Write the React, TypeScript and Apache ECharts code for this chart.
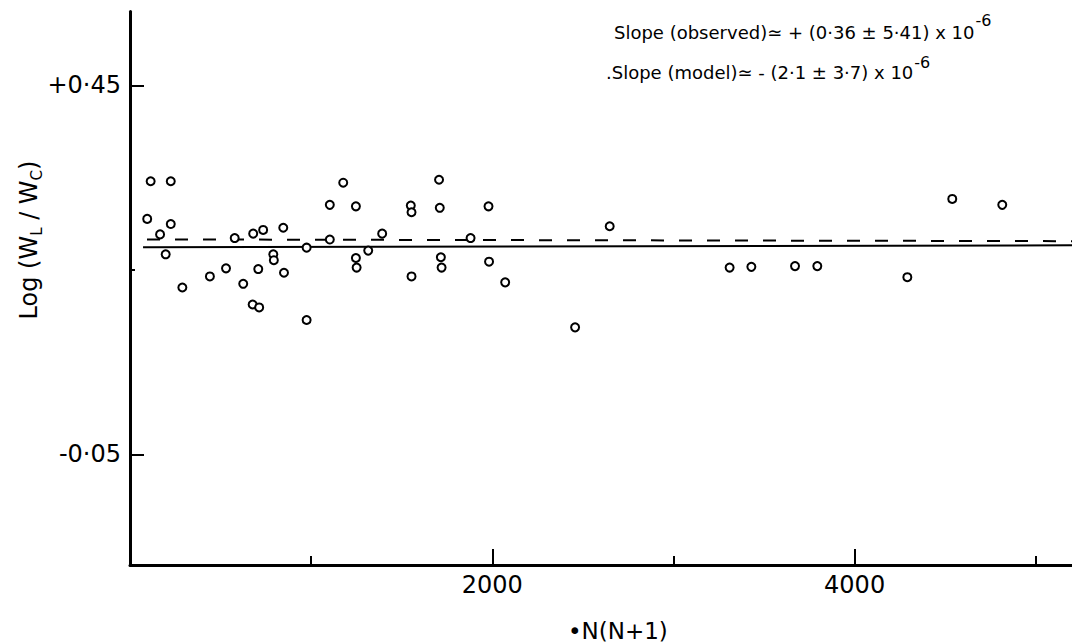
import React, { useEffect, useRef } from 'react';
import * as echarts from 'echarts';

// N(N+1) values of the observed points
const xValues = [114, 225, 95, 225, 166, 197, 289, 441, 530, 578, 625, 680, 735, 708, 677, 713, 791, 794, 846, 850, 975, 975, 1103, 1103, 1177, 1247, 1247, 1251, 1315, 1392, 1550, 1554, 1554, 1706, 1710, 1716, 1720, 1880, 1979, 1982, 2071, 2457, 2648, 3310, 3430, 3671, 3794, 4291, 4539, 4815];
// Log(W_L / W_C) values
const yValues = [0.320, 0.320, 0.269, 0.262, 0.248, 0.221, 0.176, 0.191, 0.202, 0.243, 0.181, 0.249, 0.254, 0.201, 0.153, 0.149, 0.221, 0.213, 0.257, 0.196, 0.230, 0.132, 0.288, 0.241, 0.318, 0.286, 0.216, 0.203, 0.226, 0.249, 0.287, 0.278, 0.191, 0.322, 0.284, 0.217, 0.203, 0.243, 0.286, 0.211, 0.183, 0.122, 0.259, 0.203, 0.204, 0.205, 0.205, 0.190, 0.296, 0.288];

// fitted lines
const obsFitX = [72, 5200];
const obsFitY = [0.2305, 0.2332];
const modelFitX = [94, 5200];
const modelFitY = [0.2412, 0.2388];

// ticks
const yLabelTicks = [0.45, -0.05];
const yMinorTicks = [0.2];
const xShortTicks = [1000, 3000, 5000];
const xLongTicks = [2000, 4000];
const xTickLabels = [2000, 4000];

const FONT = 'DejaVu Sans';

function measure(text: string, size: number): number {
  const c = document.createElement('canvas').getContext('2d');
  if (!c) return text.length * size * 0.6;
  c.font = `${size}px "${FONT}"`;
  return c.measureText(text).width;
}

type Part = { text: string; size: number; dy: number; dx?: number };

function textRuns(parts: Part[], center: boolean) {
  let x = 0;
  const items: any[] = [];
  for (const p of parts) {
    x += p.dx || 0;
    items.push({ text: p.text, size: p.size, x, y: p.dy });
    x += measure(p.text, p.size);
  }
  const off = center ? -x / 2 : 0;
  return items.map((it) => ({
    type: 'text',
    x: it.x + off,
    y: it.y,
    style: {
      text: it.text,
      fontSize: it.size,
      fontFamily: FONT,
      fill: '#000',
      align: 'left',
      textAlign: 'left',
      verticalAlign: 'middle',
      textVerticalAlign: 'middle',
    },
  }));
}

export default function App() {
  const ref = useRef<HTMLDivElement>(null);
  useEffect(() => {
    document.body.style.margin = '0';
    if (!ref.current) return;
    const chart = echarts.init(ref.current, undefined, { renderer: 'svg' });

    const yTitle = textRuns(
      [
        { text: 'Log (W', size: 24, dy: 0 },
        { text: 'L', size: 15, dy: 8 },
        { text: ' / W', size: 24, dy: 0 },
        { text: 'C', size: 15, dy: 8 },
        { text: ')', size: 24, dy: 0 },
      ],
      true
    );
    const ann1 = textRuns(
      [
        { text: 'Slope (observed)\u2243 + (0\u00b736 \u00b1 5\u00b741) x 10', size: 18, dy: 0 },
        { text: '-6', size: 16, dy: -12, dx: 1 },
      ],
      false
    );
    const ann2 = textRuns(
      [
        { text: '.Slope (model)\u2243 - (2\u00b71 \u00b1 3\u00b77) x 10', size: 18, dy: 0 },
        { text: '-6', size: 16, dy: -10, dx: 1 },
      ],
      false
    );

    const fmt = (v: number) =>
      (v >= 0 ? '+' : '-') + Math.abs(v).toFixed(2).replace('.', '\u00b7');

    const axisColor = '#000';
    chart.setOption({
      animation: false,
      backgroundColor: '#fff',
      grid: { left: 130, right: 0, top: 11.5, bottom: 79, containLabel: false, outerBoundsMode: 'none' },
      xAxis: [
        {
          type: 'value',
          min: 0,
          max: 5200,
          position: 'bottom',
          axisLine: { show: true, onZero: false, lineStyle: { color: axisColor, width: 3 } },
          splitLine: { show: false },
          axisTick: { show: true, inside: true, length: 9, lineStyle: { color: axisColor, width: 2 }, customValues: xShortTicks },
          axisLabel: { show: true, customValues: xTickLabels, formatter: (v: number) => String(v), color: '#000', fontSize: 24, fontFamily: FONT, margin: 8 },
        },
        {
          type: 'value',
          min: 0,
          max: 5200,
          position: 'bottom',
          axisLine: { show: false, onZero: false },
          splitLine: { show: false },
          axisTick: { show: true, inside: true, length: 16, lineStyle: { color: axisColor, width: 2 }, customValues: xLongTicks },
          axisLabel: { show: false },
        },
      ],
      yAxis: [
        {
          type: 'value',
          min: -0.2,
          max: 0.55,
          position: 'left',
          axisLine: { show: true, onZero: false, lineStyle: { color: axisColor, width: 3 } },
          splitLine: { show: false },
          axisTick: { show: true, inside: true, length: 14, lineStyle: { color: axisColor, width: 2 }, customValues: yLabelTicks },
          axisLabel: { show: true, customValues: yLabelTicks, formatter: fmt, color: '#000', fontSize: 24, fontFamily: FONT, margin: 9 },
        },
        {
          type: 'value',
          min: -0.2,
          max: 0.55,
          position: 'left',
          axisLine: { show: false, onZero: false },
          splitLine: { show: false },
          axisTick: { show: true, inside: true, length: 5, lineStyle: { color: axisColor, width: 2 }, customValues: yMinorTicks },
          axisLabel: { show: false },
        },
      ],
      series: [
        {
          type: 'line',
          xAxisIndex: 0,
          yAxisIndex: 0,
          data: obsFitX.map((x, i) => [x, obsFitY[i]]),
          symbol: 'none',
          lineStyle: { color: '#000', width: 2 },
          z: 2,
        },
        {
          type: 'line',
          xAxisIndex: 0,
          yAxisIndex: 0,
          data: modelFitX.map((x, i) => [x, modelFitY[i]]),
          symbol: 'none',
          lineStyle: { color: '#000', width: 2, type: [13, 15] },
          z: 2,
        },
        {
          type: 'scatter',
          xAxisIndex: 0,
          yAxisIndex: 0,
          data: xValues.map((x, i) => [x, yValues[i]]),
          symbol: 'circle',
          symbolSize: 8,
          itemStyle: { color: '#fff', borderColor: '#000', borderWidth: 2, opacity: 1 },
          z: 3,
        },
      ],
      graphic: [
        { type: 'group', x: 29, y: 240, rotation: Math.PI / 2, children: yTitle },
        { type: 'group', x: 614, y: 32, children: ann1 },
        { type: 'group', x: 606, y: 72, children: ann2 },
        {
          type: 'text',
          x: 568,
          y: 631,
          style: {
            text: '\u2022N(N+1)',
            fontSize: 23,
            fontFamily: FONT,
            fill: '#000',
            align: 'left',
            textAlign: 'left',
            verticalAlign: 'middle',
            textVerticalAlign: 'middle',
          },
        },
      ],
    });
    return () => chart.dispose();
  }, []);
  return <div ref={ref} style={{ width: 1072, height: 644 }} />;
}
